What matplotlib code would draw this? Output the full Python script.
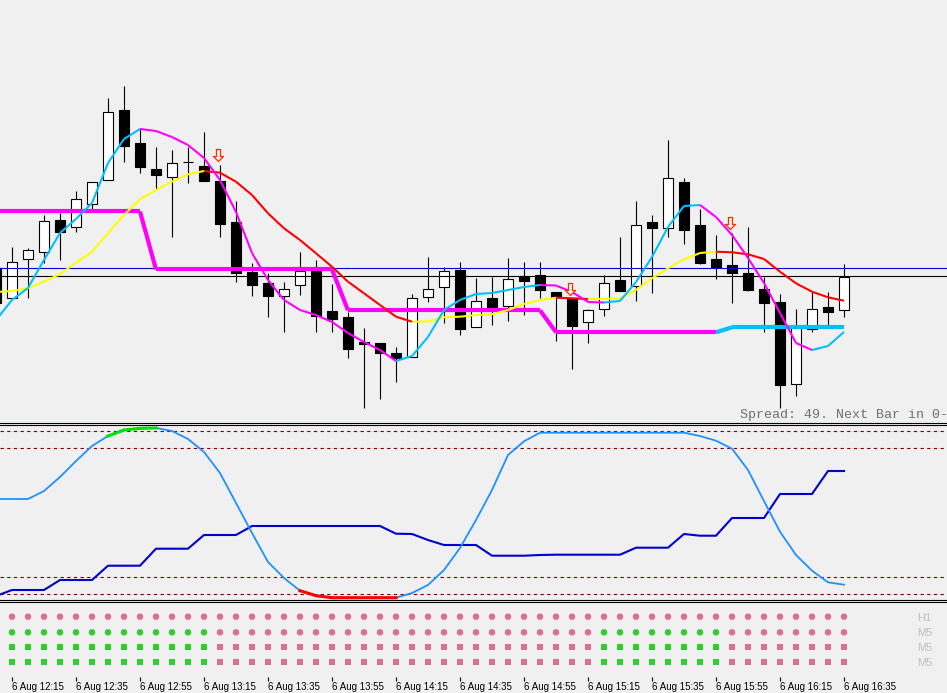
import numpy as np
import matplotlib.pyplot as plt
from matplotlib.collections import LineCollection
from matplotlib.lines import Line2D
from matplotlib.path import Path

W, H = 947, 693
BG = "#f0f0f0"

# 5-minute bars, index -1 = 6 Aug 12:10 ... 52 = 6 Aug 16:35
bar_idx = np.arange(-1, 53)
bar_labels = [f"6 Aug {12 + (10 + 5 * (i + 1)) // 60}:{(10 + 5 * (i + 1)) % 60:02d}" for i in bar_idx]

# prices in screen units (smaller value = higher price)
opens = [268, 298, 259, 252, 220, 227, 204, 180, 110, 143, 169, 177, 162, 166, 181, 222,
         272, 283, 296, 285, 271, 311, 317, 342, 343, 353, 357, 297, 287, 270, 327, 298,
         306, 276, 275, 292, 298, 322, 309, 280, 286, 222, 228, 182, 225, 259, 265, 273,
         289, 302, 384, 329, 307, 310]
highs = [264, 247, 248, 215, 213, 191, 182, 98, 86, 129, 147, 150, 147, 132, 165, 201,
         263, 273, 282, 252, 260, 284, 312, 328, 343, 347, 294, 257, 267, 262, 278, 277,
         258, 262, 262, 292, 298, 309, 275, 237, 201, 215, 140, 178, 209, 235, 233, 227,
         277, 294, 309, 291, 292, 264]
lows = [305, 298, 298, 263, 260, 232, 210, 180, 162, 173, 189, 237, 183, 181, 237, 282,
        296, 317, 332, 295, 332, 332, 358, 408, 399, 382, 357, 302, 323, 335, 327, 325,
        321, 315, 298, 341, 369, 343, 316, 291, 301, 293, 237, 244, 264, 279, 303, 291,
        332, 408, 396, 332, 327, 317]
closes = [303, 262, 250, 221, 232, 199, 182, 112, 146, 167, 175, 163, 162, 181, 224, 273,
          285, 296, 289, 271, 316, 319, 349, 344, 353, 358, 298, 289, 271, 329, 301, 310,
          279, 281, 290, 297, 326, 310, 283, 291, 225, 228, 178, 230, 263, 267, 273, 290,
          303, 385, 327, 309, 312, 277]

level_blue = 268.3
level_black = 276.3

# moving averages (screen units)
fast_ma = [320, 300, 288, 260, 233, 219, 203, 163, 139, 129, 131, 137, 145, 158, 180, 212,
           253, 280, 300, 310, 315, 322, 333, 342, 350, 361, 356, 337, 310, 300, 294, 293,
           290, 287, 285, 285.5, 292, 302, 302.5, 301, 282, 257, 227, 206, 205, 217, 235,
           258, 283, 313, 343, 350, 346, 332]
slow_ma = [292, 291, 288.3, 281.7, 274, 262.7, 251.7, 233.3, 215, 199.3, 190, 181.7, 174.3,
           171, 172.7, 181.7, 195, 213.3, 228.3, 240, 253.3, 266.7, 281.7, 293.3, 305, 316.7,
           321.7, 321.5, 317.3, 316.7, 315, 314.3, 310, 304, 300, 297.7, 298.3, 299, 298.8,
           298.6, 290, 278.3, 268.3, 259.3, 253, 251.7, 252.3, 254.3, 259, 271.7, 283.3,
           291.7, 297.3, 300.7]
step_line = [211.5] * 10 + [269.5] * 12 + [310.3] * 13 + [332.3] * 11 + [327.3] * 8

signal_bars = [13, 35, 45]
signal_y = [155, 289, 223]

# oscillator panel (screen units)
osc_fast = [499, 499, 499, 491, 477, 461, 446, 436, 430, 428.3, 428, 431, 439, 452, 473, 503,
            533, 562, 578, 590.7, 595.7, 597.7, 597.7, 597.7, 597.7, 597.7, 593, 585, 570,
            548, 520, 490, 455, 441.3, 432.7, 432.7, 432.7, 432.7, 432.7, 432.7, 432.7,
            432.7, 432.7, 432.7, 436, 440.7, 448.7, 470, 501, 531.7, 555, 570.7, 582.3, 584.7]
osc_slow = [596, 590, 590, 590, 580, 580, 580, 565.7, 565.7, 565.7, 548.7, 548.7, 548.7,
            535, 535, 535, 526, 526, 526, 526, 526, 526, 526, 526, 526, 533.7, 534, 540,
            545, 545, 545, 555.7, 555.7, 555.7, 555, 554.7, 554.7, 554.7, 554.7, 554.7,
            547.7, 547.7, 547.7, 534, 535.7, 535.7, 518, 518, 518, 494, 494, 494, 471, 471]
osc_levels = [431, 448, 577, 594]
hot_zone = (6, 9)
cold_zone = (18, 24)

# multi-timeframe dots (1 = green, 0 = pink), bars 0..52
dot_rows = ["H1", "M5", "M5", "M5"]
dot_state = [
    [0] * 53,
    [1] * 13 + [0] * 24 + [1] * 8 + [0] * 8,
    [1] * 13 + [0] * 24 + [1] * 8 + [0] * 8,
    [1] * 13 + [0] * 24 + [1] * 8 + [0] * 8,
]
tick_bars = list(range(0, 53, 4))

X0 = -12 / 16
X1 = (W - 12) / 16

# hollow down arrow used by the signal indicator
ARROW = Path([(-2, 6), (2, 6), (2, -1), (5, -1), (0, -6), (-5, -1), (-2, -1), (-2, 6)],
             closed=True)


def panel(top, bottom):
    ax = fig.add_axes([0, 1 - bottom / H, 1, (bottom - top) / H])
    ax.set_facecolor(BG)
    ax.set_xlim(X0, X1)
    ax.set_ylim(bottom, top)
    for s in ax.spines.values():
        s.set_visible(False)
    ax.set_yticks([])
    return ax


def trend_line(ax, x, y, up, down, lw, z):
    y = np.asarray(y, float)
    pts = np.column_stack([x, y])
    segs = np.stack([pts[:-1], pts[1:]], axis=1)
    cols, state = [], down
    for a, b in zip(y[:-1], y[1:]):
        if b < a:
            state = up
        elif b > a:
            state = down
        cols.append(state)
    ax.add_collection(LineCollection(segs, colors=cols, linewidths=lw, zorder=z,
                                     capstyle="butt", joinstyle="round"))


fig = plt.figure(figsize=(W / 100, H / 100), dpi=100, facecolor=BG)

# main price panel
ax = panel(0, 422)
ax.set_xticks([])
o, h, l, c = map(np.asarray, (opens, highs, lows, closes))
bull = c < o
ax.vlines(bar_idx, h, l, color="black", lw=0.8, zorder=2)
ax.bar(bar_idx, c - o, bottom=o, width=0.62,
       color=np.where(bull, "white", "black"), edgecolor="black", lw=0.8, zorder=3)
ax.axhline(level_blue, color="#0000cc", lw=0.8, zorder=4)
ax.axhline(level_black, color="black", lw=0.8, zorder=4)
trend_line(ax, bar_idx, step_line, "#00bfff", "#ff00ff", 3.0, 5)
trend_line(ax, bar_idx, slow_ma, "#ffff00", "#ff0000", 1.5, 6)
trend_line(ax, bar_idx, fast_ma, "#00bfff", "#ff00ff", 1.5, 7)
ax.scatter(np.asarray(signal_bars) - 0.1, signal_y, marker=ARROW, s=75, facecolor="#fff4f0",
           edgecolor="#ff2a00", linewidths=0.9, zorder=8)
fig.text(740 / W, 1 - 418 / H, "Spread: 49. Next Bar in 0-", family="Liberation Mono",
         fontsize=9.6, color="#707070", va="baseline")

# oscillator panel
ax2 = panel(425, 600)
ax2.set_xticks([])
for lv in osc_levels:
    ax2.axhline(lv, color="#800000", lw=0.8, ls=(0, (3, 3)))
ax2.plot(bar_idx, osc_slow, color="#0000cd", lw=1.5)
ax2.plot(bar_idx, osc_fast, color="#1e90ff", lw=1.3)
xs = np.asarray(bar_idx)
of = np.asarray(osc_fast)
m = (xs >= hot_zone[0]) & (xs <= hot_zone[1])
ax2.plot(xs[m], of[m], color="#00e000", lw=2.2)
m = (xs >= cold_zone[0]) & (xs <= cold_zone[1])
ax2.plot(xs[m], of[m], color="#ff0000", lw=2.2)

# dots panel
ax3 = panel(602, 677)
row_y = [616.7, 632.3, 647, 662]
dx = np.arange(0, 53)
for r, (yy, st) in enumerate(zip(row_y, dot_state)):
    st = np.asarray(st)
    cols = np.where(st == 1, "#32cd32", "#db7093")
    ax3.scatter(dx, [yy] * len(dx), c=cols, s=22 if r < 2 else 20,
                marker="o" if r < 2 else "s", linewidths=0)
    fig.text(917.5 / W, 1 - (yy + 4) / H, dot_rows[r], color="#c0c0c0",
             fontsize=8, family="Liberation Sans")
ax3.set_xticks(tick_bars)
ax3.set_xticklabels([bar_labels[b + 1] for b in tick_bars], family="Liberation Sans",
                    fontsize=7)
ax3.tick_params(axis="x", length=3, width=0.8, pad=0.5, direction="out")
for t in ax3.get_xticklabels():
    t.set_ha("left")

for y in (423.3, 425, 600, 602):
    fig.add_artist(Line2D([0, 1], [1 - y / H] * 2, color="black", lw=0.8))

fig.savefig("out.png", dpi=100, facecolor=BG)
